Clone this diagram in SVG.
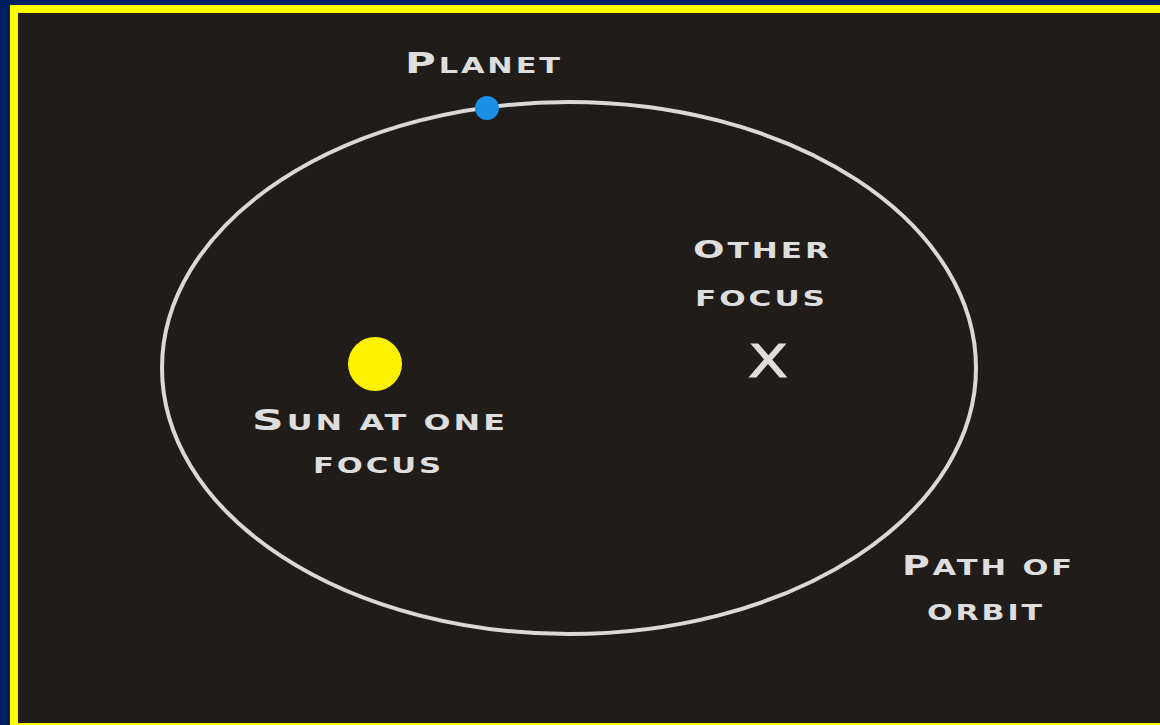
<svg xmlns="http://www.w3.org/2000/svg" width="1160" height="725" viewBox="0 0 1160 725">
  <style>
    .lbl { font-family: "DejaVu Sans", "Liberation Sans", sans-serif; font-weight: bold; fill: #dedede; font-size: 21px; letter-spacing: 2px; }
    .big { font-size: 29px; }
    .orbit { fill: none; stroke: #d9d9d9; stroke-width: 4; }
  </style>
  <rect x="0" y="0" width="1160" height="725" fill="#001f5f"/>
  <rect x="10" y="5" width="1150" height="720" fill="#ffff00"/>
  <rect x="18" y="13" width="1142" height="710" fill="#201c1a"/>
  <g id="connectors">
    <ellipse id="orbit" class="orbit" cx="569" cy="368" rx="407" ry="266"/>
  </g>
  <g id="planet">
    <circle cx="487" cy="108" r="12" fill="#1a8fe3"/>
    <text class="lbl" x="484" y="73" text-anchor="middle" textLength="158" lengthAdjust="spacingAndGlyphs"><tspan class="big">P</tspan>LANET</text>
  </g>
  <g id="sun">
    <circle cx="375" cy="364" r="27" fill="#fff200"/>
    <text class="lbl" x="380" y="430" text-anchor="middle" textLength="256" lengthAdjust="spacingAndGlyphs"><tspan class="big">S</tspan>UN AT ONE</text>
    <text class="lbl" x="378.5" y="473" text-anchor="middle" textLength="131" lengthAdjust="spacingAndGlyphs">FOCUS</text>
  </g>
  <g id="other-focus">
    <text class="lbl" x="762.5" y="258" text-anchor="middle" textLength="139" lengthAdjust="spacingAndGlyphs"><tspan style="font-size:25px">O</tspan>THER</text>
    <text class="lbl" x="761.5" y="306" text-anchor="middle" textLength="133" lengthAdjust="spacingAndGlyphs">FOCUS</text>
    <text x="768" y="377" text-anchor="middle" textLength="40" lengthAdjust="spacingAndGlyphs" style="font-family:'DejaVu Sans','Liberation Sans',sans-serif;font-size:44px;fill:#dedede;stroke:#dedede;stroke-width:1">X</text>
  </g>
  <g id="path-label">
    <text class="lbl" x="988.5" y="575" text-anchor="middle" textLength="173" lengthAdjust="spacingAndGlyphs"><tspan style="font-size:26px">P</tspan>ATH OF</text>
    <text class="lbl" x="986" y="620" text-anchor="middle" textLength="118" lengthAdjust="spacingAndGlyphs">ORBIT</text>
  </g>
</svg>
